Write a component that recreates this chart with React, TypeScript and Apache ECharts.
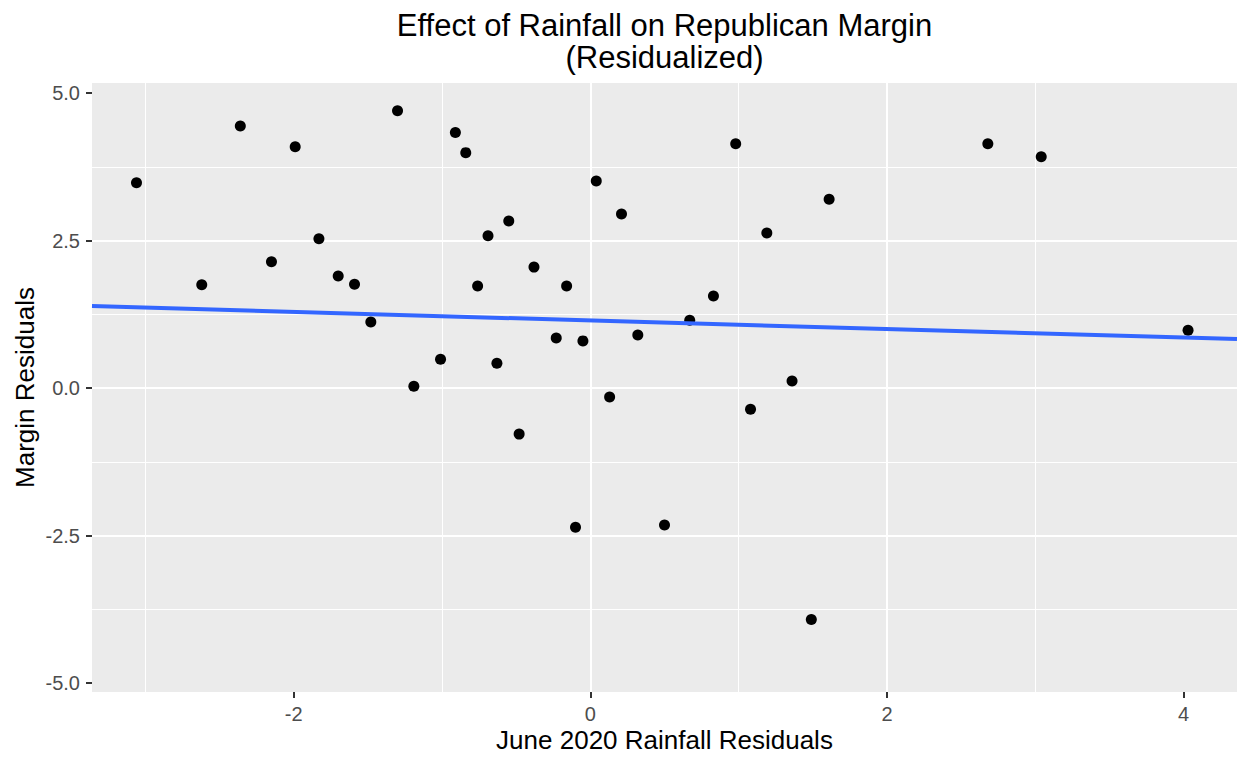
import React, { useEffect, useRef } from "react";
import * as echarts from "echarts";

// June 2020 rainfall residuals (x) and Republican margin residuals (y)
const rainResiduals = [
  -3.06, -2.62, -2.36, -2.15, -1.99, -1.83, -1.70, -1.59, -1.48, -1.30,
  -1.19, -1.01, -0.91, -0.84, -0.76, -0.69, -0.63, -0.55, -0.48, -0.38,
  -0.23, -0.16, -0.10, -0.05, 0.04, 0.13, 0.21, 0.32, 0.50, 0.59,
  0.67, 0.83, 0.98, 1.08, 1.19, 1.36, 1.49, 1.61, 2.68, 3.04, 4.03,
];
const marginResiduals = [
  3.48, 1.75, 4.44, 2.14, 4.09, 2.53, 1.90, 1.76, 1.12, 4.70,
  0.03, 0.49, 4.33, 3.99, 1.73, 2.58, 0.42, 2.83, -0.78, 2.05,
  0.85, 1.73, -2.36, 0.80, 3.51, -0.15, 2.95, 0.90, -2.32, 5.26,
  1.15, 1.56, 4.14, -0.36, 2.63, 0.12, -3.92, 3.20, 4.14, 3.92, 0.98,
];

// Fitted regression line end points (across full panel)
const fitX = [-3.36, 4.36];
const fitY = [1.39, 0.83];

const xTickValues = [-2, 0, 2, 4];
const yTickValues = [-5, -2.5, 0, 2.5, 5];

const xRange = [-3.36, 4.36];
const yRange = [-5.15, 5.17];

const titleLines = ["Effect of Rainfall on Republican Margin", "(Residualized)"];
const xTitle = "June 2020 Rainfall Residuals";
const yTitle = "Margin Residuals";

export default function App() {
  const ref = useRef<HTMLDivElement>(null);

  useEffect(() => {
    if (!ref.current) return;
    const chart = echarts.init(ref.current, undefined, { renderer: "svg" });
    const FONT = "'Liberation Sans', Arial, Helvetica, sans-serif";
    const gridLeft = 92;
    const gridRight = 1;
    const gridTop = 83;
    const gridBottom = 67;
    const W = 1238;
    const H = 759;
    const panelCx = gridLeft + (W - gridLeft - gridRight) / 2;
    const panelCy = gridTop + (H - gridTop - gridBottom) / 2;

    const points = rainResiduals.map((x, i) => [x, marginResiduals[i]]);
    const fit = fitX.map((x, i) => [x, fitY[i]]);

    const axisCommon = {
      type: "value",
      axisLine: { show: false, onZero: false },
      splitLine: {
        show: true,
        showMinLine: false,
        showMaxLine: false,
        lineStyle: { color: "#FFFFFF", width: 2 },
      },
      minorTick: { show: false, splitNumber: 2 },
      minorSplitLine: { show: true, lineStyle: { color: "#FFFFFF", width: 1 } },
    };

    chart.setOption({
      animation: false,
      backgroundColor: "#FFFFFF",
      textStyle: { fontFamily: FONT },
      grid: {
        left: gridLeft,
        right: gridRight,
        top: gridTop,
        bottom: gridBottom,
        show: true,
        backgroundColor: "#EBEBEB",
        borderWidth: 0,
      },
      xAxis: {
        ...axisCommon,
        min: xRange[0],
        max: xRange[1],
        minInterval: 2,
        maxInterval: 2,
        axisTick: {
          show: true,
          customValues: xTickValues,
          length: 6,
          lineStyle: { color: "#333333", width: 2 },
        },
        axisLabel: {
          customValues: xTickValues,
          margin: 12,
          color: "#4D4D4D",
          fontSize: 20,
          fontFamily: FONT,
          formatter: (v: number) => String(v),
        },
      },
      yAxis: {
        ...axisCommon,
        min: yRange[0],
        max: yRange[1],
        minInterval: 2.5,
        maxInterval: 2.5,
        axisTick: {
          show: true,
          customValues: yTickValues,
          length: 6,
          lineStyle: { color: "#333333", width: 2 },
        },
        axisLabel: {
          customValues: yTickValues,
          margin: 12,
          color: "#4D4D4D",
          fontSize: 20,
          fontFamily: FONT,
          formatter: (v: number) => v.toFixed(1),
        },
      },
      graphic: [
        {
          type: "text",
          x: panelCx,
          y: 25,
          style: {
            text: titleLines[0],
            font: `31px ${FONT}`,
            fill: "#000000",
            textAlign: "center",
            textVerticalAlign: "middle",
          },
        },
        {
          type: "text",
          x: panelCx,
          y: 57,
          style: {
            text: titleLines[1],
            font: `31px ${FONT}`,
            fill: "#000000",
            textAlign: "center",
            textVerticalAlign: "middle",
          },
        },
        {
          type: "text",
          x: panelCx,
          y: 740,
          style: {
            text: xTitle,
            font: `26px ${FONT}`,
            fill: "#000000",
            textAlign: "center",
            textVerticalAlign: "middle",
          },
        },
        {
          type: "text",
          x: 25,
          y: panelCy,
          rotation: Math.PI / 2,
          style: {
            text: yTitle,
            font: `26px ${FONT}`,
            fill: "#000000",
            textAlign: "center",
            textVerticalAlign: "middle",
          },
        },
      ],
      series: [
        {
          type: "scatter",
          data: points,
          symbol: "circle",
          symbolSize: 11,
          itemStyle: { color: "#000000", opacity: 1 },
          clip: true,
          z: 2,
        },
        {
          type: "line",
          data: fit,
          showSymbol: false,
          symbol: "none",
          lineStyle: { color: "#3366FF", width: 4 },
          clip: true,
          z: 3,
        },
      ],
    });
    return () => chart.dispose();
  }, []);

  return (
    <div
      ref={ref}
      style={{ position: "fixed", left: 0, top: 0, width: 1238, height: 759 }}
    />
  );
}
